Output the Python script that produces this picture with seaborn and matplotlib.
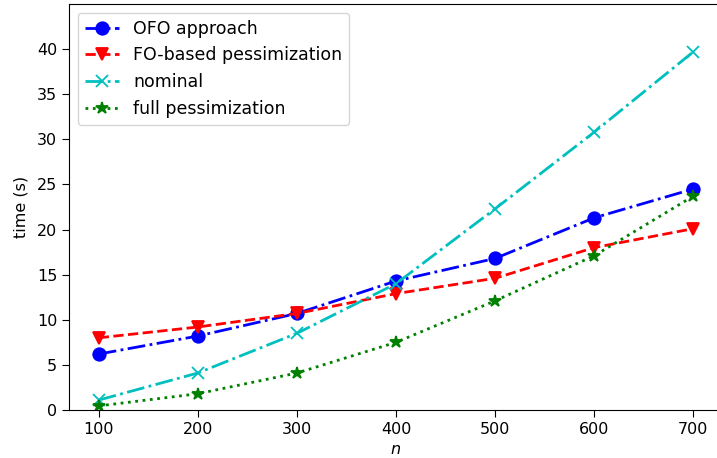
import matplotlib
matplotlib.use("Agg")
import matplotlib.pyplot as plt
import seaborn as sns
import pandas as pd

n_values = [100, 200, 300, 400, 500, 600, 700]
ofo_approach = [6.2, 8.2, 10.7, 14.3, 16.8, 21.3, 24.5]
fo_based = [8.0, 9.2, 10.7, 12.9, 14.6, 18.0, 20.1]
nominal = [1.1, 4.1, 8.5, 14.0, 22.3, 30.8, 39.7]
full_pess = [0.45, 1.8, 4.1, 7.5, 12.1, 17.1, 23.7]

series_names = ["OFO approach", "FO-based pessimization", "nominal", "full pessimization"]
series_values = [ofo_approach, fo_based, nominal, full_pess]
styles = [
    dict(color="b", linestyle="-.", marker="o", markersize=9),
    dict(color="r", linestyle="--", marker="v", markersize=9),
    dict(color="c", linestyle="-.", marker="x", markersize=9),
    dict(color="g", linestyle=":", marker="*", markersize=9),
]

plt.rcParams["font.family"] = ["DejaVu Sans"]
plt.rcParams["font.size"] = 11.5

fig = plt.figure(figsize=(7.17, 4.58), dpi=100)
ax = fig.add_axes([69 / 717, 48 / 458, (723 - 69) / 717, 406 / 458])

for name, vals, st in zip(series_names, series_values, styles):
    df = pd.DataFrame({"n": n_values, "time": vals})
    sns.lineplot(data=df, x="n", y="time", ax=ax, label=name,
                 linewidth=2.0, markeredgecolor=st["color"],
                 markeredgewidth=1.3, **st)

ax.set_xlim(70, 730)
ax.set_ylim(0, 45)
ax.set_xticks(n_values)
ax.set_yticks([0, 5, 10, 15, 20, 25, 30, 35, 40])
ax.set_xlabel("$n$")
ax.set_ylabel("time (s)", labelpad=6)
ax.tick_params(length=5)
ax.legend(loc="upper left", fontsize=12.5)

fig.savefig("out.png", dpi=100)
